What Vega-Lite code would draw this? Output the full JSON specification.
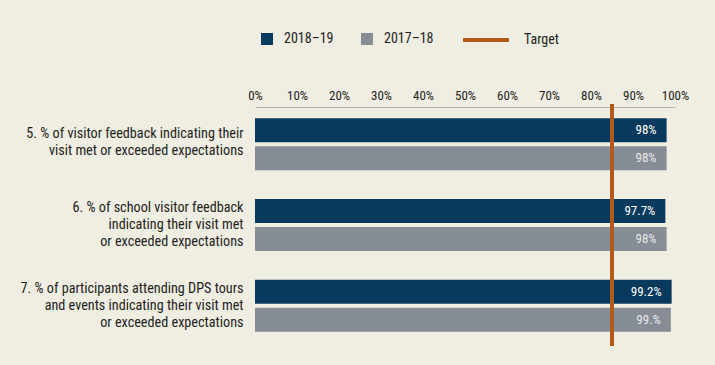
{
  "$schema": "https://vega.github.io/schema/vega-lite/v6.json",
  "autosize": {"type": "none"},
  "padding": {"left": 255, "top": 104, "right": 40, "bottom": 19},
  "width": 420,
  "height": 242,
  "background": "#f0ede3",
  "config": {
    "view": {"stroke": null},
    "font": "Liberation Sans Narrow, Roboto Condensed, DejaVu Sans Condensed, sans-serif"
  },
  "layer": [
    {
      "data": {
        "values": [
          {"q": "5. % of visitor feedback indicating their|visit met or exceeded expectations", "series": "2018–19", "value": 98, "label": "98%"},
          {"q": "5. % of visitor feedback indicating their|visit met or exceeded expectations", "series": "2017–18", "value": 98, "label": "98%"},
          {"q": "6. % of school visitor feedback|indicating their visit met|or exceeded expectations", "series": "2018–19", "value": 97.7, "label": "97.7%"},
          {"q": "6. % of school visitor feedback|indicating their visit met|or exceeded expectations", "series": "2017–18", "value": 98, "label": "98%"},
          {"q": "7. % of participants attending DPS tours|and events indicating their visit met|or exceeded expectations", "series": "2018–19", "value": 99.2, "label": "99.2%"},
          {"q": "7. % of participants attending DPS tours|and events indicating their visit met|or exceeded expectations", "series": "2017–18", "value": 99, "label": "99.%"}
        ]
      },
      "encoding": {
        "y": {
          "field": "q", "type": "nominal", "sort": null,
          "scale": {"paddingInner": 0, "paddingOuter": 0},
          "axis": {
            "title": null, "ticks": false, "domain": false,
            "labelExpr": "split(datum.label, '|')",
            "labelLineHeight": 17, "labelFontSize": 14.2, "labelColor": "#231f20",
            "labelPadding": 12, "labelLimit": 300, "labelAlign": "right", "labelBaseline": "middle",
            "labelOffset": {"condition": {"test": "indexof(datum.value, '5.') === 0", "value": -10}, "value": -17}
          }
        },
        "yOffset": {
          "field": "series", "type": "nominal", "sort": ["2018–19", "2017–18"],
          "scale": {"paddingInner": 0.1429, "paddingOuter": 0.512}
        },
        "x": {
          "field": "value", "type": "quantitative",
          "scale": {"domain": [0, 100]},
          "axis": {
            "orient": "top", "title": null, "grid": false, "ticks": false, "tickSize": 0,
            "values": [0, 10, 20, 30, 40, 50, 60, 70, 80, 90, 100],
            "labelExpr": "datum.value + '%'",
            "labelFontSize": 13, "labelColor": "#231f20", "labelPadding": 5,
            "domainColor": "#b3b3b3", "offset": -3, "labelFlush": false
          }
        }
      },
      "layer": [
        {
          "mark": {"type": "bar"},
          "encoding": {
            "color": {
              "field": "series", "type": "nominal",
              "scale": {"domain": ["2018–19", "2017–18"], "range": ["#083a5e", "#868d95"]},
              "legend": {
                "orient": "none", "legendX": 5, "legendY": -72, "direction": "horizontal",
                "title": null, "symbolType": "square", "symbolSize": 144, "symbolStrokeWidth": 0,
                "labelFontSize": 14, "labelColor": "#231f20", "labelOffset": 10,
                "columnPadding": 26, "padding": 0
              }
            }
          }
        },
        {
          "mark": {"type": "text", "align": "right", "baseline": "middle", "dx": -10, "fontSize": 13},
          "encoding": {
            "text": {"field": "label"},
            "color": {"condition": {"test": "datum.series === '2018–19'", "value": "#ffffff"}, "value": "#e8e8e8"}
          }
        }
      ]
    },
    {
      "data": {"values": [{"target": 85, "name": "Target"}]},
      "mark": {"type": "rule", "strokeWidth": 4},
      "encoding": {
        "x": {"field": "target", "type": "quantitative"},
        "stroke": {
          "field": "name", "type": "nominal",
          "scale": {"domain": ["Target"], "range": ["#b05a1e"]},
          "legend": {
            "orient": "none", "legendX": 206, "legendY": -89, "direction": "horizontal",
            "title": null, "symbolType": "stroke", "symbolSize": 2116, "symbolStrokeWidth": 4,
            "labelFontSize": 14, "labelColor": "#231f20", "labelOffset": 13, "padding": 0
          }
        }
      }
    }
  ]
}
